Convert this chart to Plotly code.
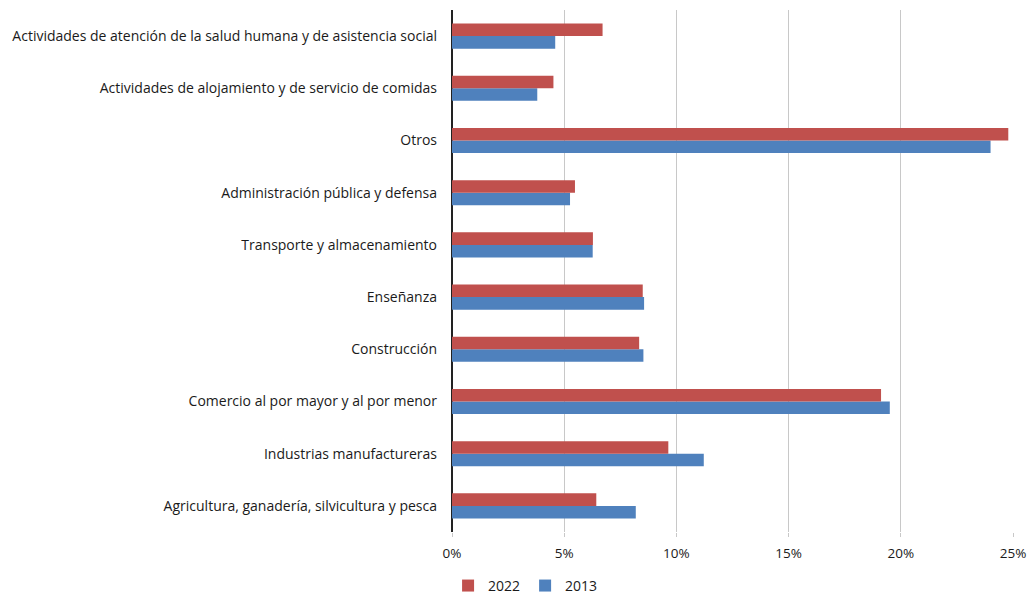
import plotly.graph_objects as go

categories = [
    "Agricultura, ganadería, silvicultura y pesca",
    "Industrias manufactureras",
    "Comercio al por mayor y al por menor",
    "Construcción",
    "Enseñanza",
    "Transporte y almacenamiento",
    "Administración pública y defensa",
    "Otros",
    "Actividades de alojamiento y de servicio de comidas",
    "Actividades de atención de la salud humana y de asistencia social",
]
values_2013 = [8.19, 11.22, 19.51, 8.53, 8.56, 6.27, 5.26, 24.0, 3.80, 4.60]
values_2022 = [6.43, 9.64, 19.12, 8.34, 8.50, 6.28, 5.48, 24.79, 4.52, 6.71]
x_ticks = [0, 5, 10, 15, 20, 25]

font_family = "'Open Sans', Lato, sans-serif"

fig = go.Figure()
fig.add_trace(go.Bar(
    y=categories, x=values_2013, name="2013", orientation="h",
    marker=dict(color="#4F81BD", line=dict(width=0)), legendrank=2,
))
fig.add_trace(go.Bar(
    y=categories, x=values_2022, name="2022", orientation="h",
    marker=dict(color="#C0504D", line=dict(width=0)), legendrank=1,
))

fig.update_layout(
    width=1029, height=594,
    margin=dict(l=452, r=16, t=10, b=62, autoexpand=False),
    paper_bgcolor="white", plot_bgcolor="white",
    barmode="group", bargap=0.52, bargroupgap=0,
    font=dict(family=font_family, size=14, color="#1a1a1a"),
    showlegend=True,
    legend=dict(
        orientation="h", x=-0.007, xanchor="left", y=-0.134, yanchor="bottom",
        font=dict(size=14, color="#1a1a1a"), itemwidth=30,
        traceorder="normal", bgcolor="rgba(0,0,0,0)",
    ),
    xaxis=dict(
        range=[0, 25], tickvals=x_ticks,
        ticktext=[f"{v}%" for v in x_ticks],
        showgrid=True, gridcolor="#c8c8c8", gridwidth=1,
        zeroline=True, zerolinecolor="#222222", zerolinewidth=1.5,
        ticks="outside", ticklen=4, tickcolor="#c8c8c8",
        ticklabelstandoff=5,
        showline=False, fixedrange=True, automargin=False,
        tickfont=dict(size=13.5),
    ),
    yaxis=dict(
        showgrid=False, zeroline=False, showline=False,
        ticks="", ticklabelstandoff=14, automargin=False,
        tickfont=dict(size=14),
    ),
)

fig.write_html("out.html")
